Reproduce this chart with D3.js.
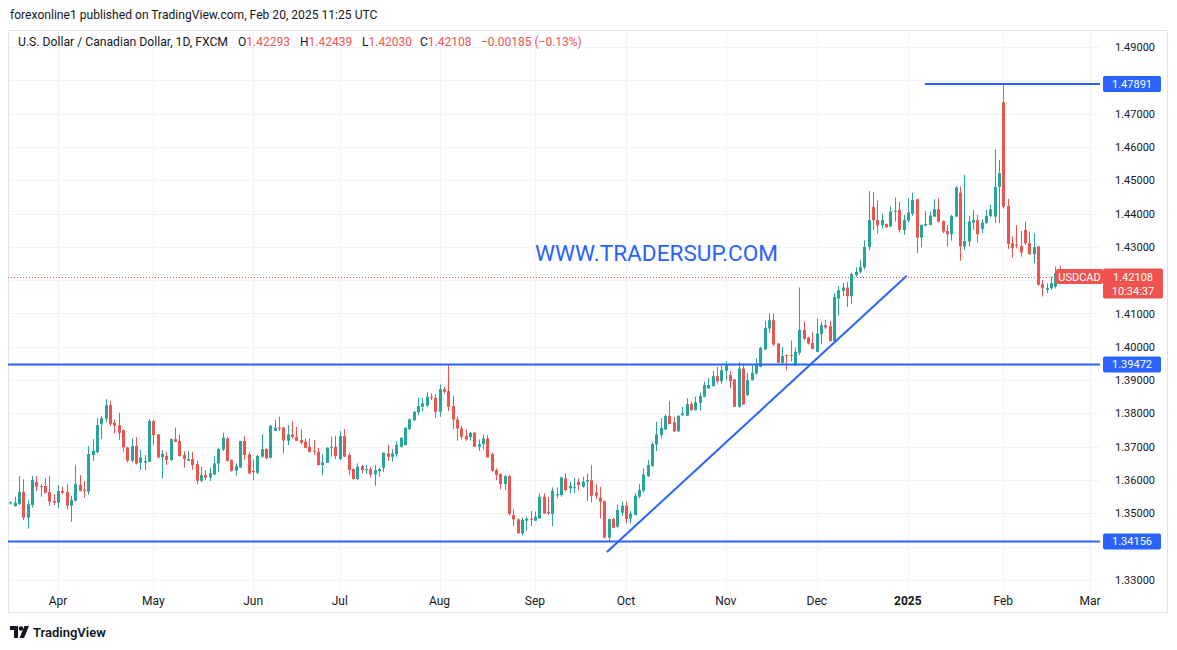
<!DOCTYPE html>
<html>
<head>
<meta charset="utf-8">
<script src="https://cdn.jsdelivr.net/npm/d3@7"></script>
<style>
  html, body { margin: 0; padding: 0; background: #fff; }
  svg { display: block; font-family: Roboto, "Noto Sans", sans-serif; }
</style>
</head>
<body>
<div id="chart"></div>
<script>
// daily bars, USDCAD FXCM, from Mar 15 2024 to Feb 20 2025
const opens = [
  1.3531,1.3522,1.3528,1.3564,1.3487,1.3525,1.3594,1.3582,1.3582,1.3564,1.3537,1.3532,1.3567,1.3564,1.3523,1.3538,1.3585,1.3571,1.3565,1.3675,
  1.3684,1.3768,1.3784,1.3825,1.3772,1.3765,1.3750,1.3698,1.3658,1.3702,1.3652,1.3652,1.3655,1.3777,1.3737,1.3669,1.3672,1.3660,1.3723,1.3717,
  1.3675,1.3658,1.3663,1.3648,1.3598,1.3615,1.3608,1.3617,1.3650,1.3692,1.3725,1.3660,1.3628,1.3638,1.3717,1.3677,1.3627,1.3622,1.3670,1.3693,
  1.3667,1.3748,1.3758,1.3758,1.3718,1.3737,1.3729,1.3720,1.3715,1.3700,1.3688,1.3685,1.3645,1.3652,1.3697,1.3700,1.3663,1.3732,1.3675,1.3633,
  1.3603,1.3642,1.3630,1.3633,1.3617,1.3627,1.3637,1.3680,1.3670,1.3678,1.3700,1.3705,1.3753,1.3780,1.3803,1.3820,1.3823,1.3850,1.3847,1.3805,
  1.3873,1.3867,1.3822,1.3782,1.3755,1.3732,1.3729,1.3742,1.3700,1.3708,1.3725,1.3678,1.3630,1.3618,1.3588,1.3612,1.3495,1.3482,1.3440,1.3478,
  1.3484,1.3478,1.3485,1.3550,1.3504,1.3498,1.3555,1.3555,1.3605,1.3575,1.3578,1.3595,1.3580,1.3595,1.3600,1.3563,1.3548,1.3537,1.3427,1.3483,
  1.3460,1.3502,1.3523,1.3485,1.3495,1.3550,1.3568,1.3612,1.3642,1.3707,1.3735,1.3752,1.3792,1.3773,1.3746,1.3795,1.3793,1.3828,1.3810,1.3832,
  1.3850,1.3875,1.3882,1.3912,1.3897,1.3928,1.3915,1.3902,1.3820,1.3935,1.3855,1.3900,1.3920,1.3940,1.3992,1.4055,1.4080,1.4010,1.3952,1.3975,
  1.3975,1.3945,1.3982,1.4051,1.4027,1.4012,1.3985,1.4038,1.4065,1.4062,1.4017,1.4145,1.4168,1.4178,1.4152,1.4215,1.4225,1.4238,1.4300,1.4420,
  1.4380,1.4365,1.4369,1.4361,1.4406,1.4411,1.4351,1.4379,1.4399,1.4443,1.4328,1.4364,1.4366,1.4391,1.4413,1.4378,1.4348,1.4338,1.4391,1.4463,
  1.4301,1.4316,1.4373,1.4381,1.4354,1.4371,1.4393,1.4391,1.4480,1.4734,1.4423,1.4311,1.4306,1.4303,1.4351,1.4311,1.4278,1.4301,1.4188,1.4171,
  1.4176,1.4181,1.42293
];
const highs = [
  1.3536,1.3550,1.3612,1.3602,1.3540,1.3612,1.3612,1.3588,1.3606,1.3612,1.3558,1.3585,1.3580,1.3588,1.3552,1.3645,1.3615,1.3597,1.3702,1.3723,
  1.3787,1.3792,1.3843,1.3837,1.3782,1.3802,1.3752,1.3700,1.3725,1.3729,1.3692,1.3675,1.3783,1.3781,1.3738,1.3690,1.3685,1.3725,1.3758,1.3737,
  1.3687,1.3687,1.3685,1.3659,1.3640,1.3630,1.3637,1.3672,1.3697,1.3742,1.3728,1.3662,1.3650,1.3718,1.3732,1.3685,1.3662,1.3675,1.3737,1.3695,
  1.3765,1.3780,1.3790,1.3759,1.3765,1.3777,1.3760,1.3753,1.3725,1.3725,1.3720,1.3697,1.3677,1.3698,1.3730,1.3733,1.3747,1.3753,1.3683,1.3635,
  1.3650,1.3645,1.3645,1.3640,1.3645,1.3637,1.3683,1.3705,1.3693,1.3717,1.3728,1.3758,1.3785,1.3807,1.3847,1.3847,1.3863,1.3860,1.3857,1.3887,
  1.3880,1.3946,1.3853,1.3790,1.3762,1.3752,1.3745,1.3745,1.3722,1.3737,1.3735,1.3682,1.3635,1.3620,1.3615,1.3615,1.3512,1.3485,1.3487,1.3490,
  1.3507,1.3505,1.3560,1.3560,1.3550,1.3578,1.3578,1.3610,1.3620,1.3595,1.3607,1.3605,1.3610,1.3620,1.3645,1.3587,1.3579,1.3538,1.3484,1.3487,
  1.3525,1.3535,1.3535,1.3507,1.3560,1.3588,1.3635,1.3660,1.3715,1.3775,1.3785,1.3797,1.3837,1.3790,1.3795,1.3820,1.3845,1.3835,1.3850,1.3862,
  1.3895,1.3905,1.3928,1.3940,1.3945,1.3957,1.3927,1.3903,1.3955,1.3945,1.3922,1.3945,1.3965,1.4000,1.4078,1.4102,1.4100,1.4012,1.4000,1.3977,
  1.4019,1.3998,1.4178,1.4076,1.4030,1.4045,1.4085,1.4075,1.4081,1.4078,1.4162,1.4182,1.4192,1.4195,1.4222,1.4238,1.4260,1.4320,1.4467,1.4465,
  1.4440,1.4400,1.4370,1.4421,1.4448,1.4436,1.4396,1.4446,1.4463,1.4444,1.4367,1.4408,1.4406,1.4443,1.4446,1.4379,1.4366,1.4396,1.4483,1.4481,
  1.4516,1.4393,1.4411,1.4396,1.4383,1.4411,1.4426,1.4593,1.4560,1.47891,1.4444,1.4331,1.4366,1.4348,1.4376,1.4346,1.4341,1.4303,1.4201,1.4191,
  1.4211,1.4241,1.42439
];
const lows = [
  1.3527,1.3520,1.3525,1.3480,1.3454,1.3517,1.3567,1.3550,1.3560,1.3522,1.3525,1.3515,1.3557,1.3512,1.3475,1.3535,1.3566,1.3547,1.3556,1.3658,
  1.3680,1.3724,1.3772,1.3762,1.3740,1.3720,1.3685,1.3653,1.3653,1.3647,1.3630,1.3630,1.3654,1.3705,1.3665,1.3605,1.3645,1.3657,1.3714,1.3671,
  1.3637,1.3657,1.3630,1.3587,1.3593,1.3600,1.3597,1.3615,1.3623,1.3687,1.3655,1.3625,1.3613,1.3636,1.3660,1.3617,1.3600,1.3618,1.3667,1.3663,
  1.3665,1.3747,1.3747,1.3680,1.3705,1.3725,1.3717,1.3707,1.3696,1.3682,1.3675,1.3644,1.3615,1.3651,1.3670,1.3663,1.3660,1.3669,1.3615,1.3602,
  1.3600,1.3620,1.3620,1.3607,1.3583,1.3610,1.3625,1.3657,1.3655,1.3670,1.3697,1.3704,1.3750,1.3777,1.3795,1.3807,1.3820,1.3840,1.3787,1.3790,
  1.3860,1.3807,1.3753,1.3718,1.3722,1.3718,1.3718,1.3700,1.3688,1.3692,1.3668,1.3625,1.3600,1.3572,1.3570,1.3495,1.3462,1.3440,1.3435,1.3448,
  1.3462,1.3477,1.3484,1.3498,1.3495,1.3462,1.3545,1.3550,1.3565,1.3560,1.3562,1.3570,1.3577,1.3537,1.3533,1.3543,1.3485,1.3425,1.3417,1.3455,
  1.3457,1.3492,1.3470,1.3470,1.3495,1.3545,1.3563,1.3609,1.3640,1.3687,1.3725,1.3750,1.3768,1.3745,1.3745,1.3792,1.3792,1.3809,1.3809,1.3808,
  1.3848,1.3874,1.3881,1.3890,1.3890,1.3900,1.3875,1.3820,1.3817,1.3825,1.3852,1.3899,1.3917,1.3938,1.3990,1.4042,1.4002,1.3952,1.3945,1.3930,
  1.3955,1.3942,1.3975,1.4021,1.4007,1.3993,1.3985,1.4008,1.4053,1.4017,1.4015,1.4095,1.4152,1.4120,1.4128,1.4210,1.4220,1.4232,1.4290,1.4350,
  1.4340,1.4355,1.4358,1.4360,1.4376,1.4343,1.4336,1.4373,1.4393,1.4281,1.4298,1.4361,1.4365,1.4390,1.4373,1.4341,1.4301,1.4319,1.4390,1.4258,
  1.4291,1.4301,1.4351,1.4313,1.4341,1.4370,1.4389,1.4372,1.4371,1.4415,1.4294,1.4268,1.4296,1.4271,1.4306,1.4276,1.4251,1.4184,1.4151,1.4161,
  1.4171,1.4175,1.42030
];
const closes = [
  1.3533,1.3532,1.3564,1.3487,1.3528,1.3600,1.3580,1.3579,1.3562,1.3535,1.3532,1.3567,1.3562,1.3523,1.3540,1.3588,1.3568,1.3569,1.3678,1.3688,
  1.3765,1.3786,1.3825,1.3768,1.3764,1.3742,1.3698,1.3658,1.3702,1.3650,1.3667,1.3657,1.3777,1.3735,1.3668,1.3679,1.3660,1.3723,1.3715,1.3672,
  1.3663,1.3663,1.3645,1.3598,1.3615,1.3607,1.3621,1.3650,1.3693,1.3727,1.3658,1.3628,1.3642,1.3717,1.3675,1.3620,1.3625,1.3672,1.3693,1.3665,
  1.3763,1.3757,1.3754,1.3719,1.3737,1.3729,1.3718,1.3712,1.3697,1.3685,1.3685,1.3645,1.3653,1.3697,1.3700,1.3672,1.3732,1.3670,1.3630,1.3603,
  1.3640,1.3630,1.3633,1.3617,1.3630,1.3633,1.3682,1.3670,1.3680,1.3705,1.3727,1.3757,1.3782,1.3805,1.3822,1.3830,1.3850,1.3847,1.3805,1.3873,
  1.3865,1.3820,1.3782,1.3755,1.3730,1.3722,1.3742,1.3700,1.3708,1.3725,1.3668,1.3628,1.3615,1.3588,1.3612,1.3498,1.3482,1.3440,1.3480,1.3484,
  1.3482,1.3490,1.3550,1.3500,1.3500,1.3568,1.3558,1.3608,1.3570,1.3583,1.3580,1.3585,1.3595,1.3600,1.3553,1.3553,1.3535,1.3427,1.3483,1.3457,
  1.3510,1.3523,1.3483,1.3499,1.3553,1.3570,1.3617,1.3645,1.3708,1.3737,1.3757,1.3792,1.3768,1.3746,1.3793,1.3800,1.3828,1.3810,1.3833,1.3852,
  1.3885,1.3885,1.3912,1.3897,1.3930,1.3945,1.3897,1.3820,1.3935,1.3827,1.3900,1.3922,1.3947,1.3997,1.4057,1.4080,1.4007,1.3952,1.3972,1.3972,
  1.3972,1.3985,1.4051,1.4024,1.4010,1.3993,1.4040,1.4065,1.4058,1.4017,1.4150,1.4170,1.4178,1.4152,1.4218,1.4225,1.4240,1.4300,1.4380,1.4380,
  1.4365,1.4380,1.4359,1.4406,1.4408,1.4351,1.4381,1.4403,1.4441,1.4328,1.4366,1.4369,1.4394,1.4413,1.4376,1.4346,1.4338,1.4393,1.4478,1.4301,
  1.4318,1.4376,1.4381,1.4338,1.4373,1.4393,1.4413,1.4480,1.4521,1.4421,1.4309,1.4297,1.4303,1.4283,1.4311,1.4278,1.4299,1.4186,1.4176,1.4176,
  1.4191,1.4221,1.42108
];

const priceTicks = d3.range(1.33, 1.4901, 0.01);
const monthNames = ["Jan","Feb","Mar","Apr","May","Jun","Jul","Aug","Sep","Oct","Nov","Dec"];
const holidays = ["2024-12-25", "2025-01-01"];
const levels = [1.47891, 1.39472, 1.34156];
const levelStart = [210.9, -5, -5];          // bar index where each horizontal ray starts
const trendLine = [[137.6, 1.3384], [206.75, 1.4213]];  // [bar index, price]
const lastPrice = 1.42108;
const changeText = "\u22120.00185 (\u22120.13%)";

const width = 1177, height = 650;
const paneLeft = 8, paneRight = 1100, paneTop = 30, paneBottom = 590, axisRight = 1168, frameBottom = 613;

// bar dates: weekdays from Mar 15 2024, skipping market holidays
var dates = [];
var d = new Date(Date.UTC(2024, 2, 15));
while (dates.length < 252) {
    var iso = d.toISOString().slice(0, 10);
    if (d.getUTCDay() != 0 && d.getUTCDay() != 6 && holidays.indexOf(iso) < 0) dates.push(new Date(d));
    d.setUTCDate(d.getUTCDate() + 1);
}

const x = d3.scaleLinear().domain([0, closes.length - 1]).range([10.3, 1059.6]);
const y = d3.scaleLinear().domain([1.33, 1.49]).range([580, 47]);

const svg = d3.select("#chart").append("svg")
    .attr("width", width)
    .attr("height", height);

svg.append("rect").attr("width", width).attr("height", height).attr("fill", "#fff");

// month ticks = first bar of every month
var monthTicks = [];
for (let i = 1; i < dates.length; i++) {
    if (dates[i].getUTCMonth() != dates[i - 1].getUTCMonth()) monthTicks.push(i);
}

const grid = svg.append("g");
grid.selectAll("line.h")
    .data(priceTicks)
    .enter().append("line")
    .attr("x1", paneLeft).attr("x2", paneRight)
    .attr("y1", p => Math.round(y(p)) + 0.5).attr("y2", p => Math.round(y(p)) + 0.5)
    .attr("stroke", "#f0f3fa");
grid.selectAll("line.v")
    .data(monthTicks)
    .enter().append("line")
    .attr("x1", i => Math.round(x(i)) + 0.5).attr("x2", i => Math.round(x(i)) + 0.5)
    .attr("y1", paneTop).attr("y2", paneBottom)
    .attr("stroke", "#f0f3fa");

// frame
svg.append("rect")
    .attr("x", paneLeft + 0.5).attr("y", paneTop + 0.5)
    .attr("width", axisRight - paneLeft - 1).attr("height", frameBottom - paneTop - 1)
    .attr("fill", "none").attr("stroke", "#e0e3eb");

// candles
const up = "#26a69a", down = "#ef5350";
const candles = svg.append("g");
candles.selectAll("line")
    .data(closes)
    .enter().append("line")
    .attr("x1", (c, i) => Math.round(x(i)) + 0.5)
    .attr("x2", (c, i) => Math.round(x(i)) + 0.5)
    .attr("y1", (c, i) => y(highs[i]))
    .attr("y2", (c, i) => y(lows[i]))
    .attr("stroke", (c, i) => c >= opens[i] ? up : down);
candles.selectAll("rect")
    .data(closes)
    .enter().append("rect")
    .attr("x", (c, i) => Math.round(x(i)) - 1)
    .attr("width", 3)
    .attr("y", (c, i) => y(Math.max(c, opens[i])))
    .attr("height", (c, i) => Math.max(1, Math.abs(y(c) - y(opens[i]))))
    .attr("fill", (c, i) => c >= opens[i] ? up : down);

// last price dotted line
svg.append("line")
    .attr("x1", paneLeft).attr("x2", paneRight)
    .attr("y1", Math.round(y(lastPrice)) + 0.5).attr("y2", Math.round(y(lastPrice)) + 0.5)
    .attr("stroke", down).attr("stroke-dasharray", "1,2");

// drawings
const blue = "#2962ff";
svg.selectAll("line.level")
    .data(levels)
    .enter().append("line")
    .attr("x1", (p, k) => Math.max(paneLeft, x(levelStart[k]))).attr("x2", paneRight)
    .attr("y1", p => y(p)).attr("y2", p => y(p))
    .attr("stroke", blue).attr("stroke-width", 2);
svg.append("line")
    .attr("x1", x(trendLine[0][0])).attr("y1", y(trendLine[0][1]))
    .attr("x2", x(trendLine[1][0])).attr("y2", y(trendLine[1][1]))
    .attr("stroke", blue).attr("stroke-width", 2);

svg.append("text")
    .attr("x", 535).attr("y", 261)
    .attr("font-size", 22).attr("fill", "#2962ff")
    .attr("textLength", 243).attr("lengthAdjust", "spacingAndGlyphs")
    .text("WWW.TRADERSUP.COM");

// price axis (labels covered by a price box are hidden, as TradingView does)
const boxed = levels.concat([lastPrice]);
svg.append("g").selectAll("text")
    .data(priceTicks.filter(p => boxed.every(b => Math.abs(y(b) - y(p)) > 12)))
    .enter().append("text")
    .attr("x", 1115).attr("y", p => y(p) + 4)
    .attr("font-size", 11).attr("fill", "#131722")
    .text(p => p.toFixed(5));

function priceBox(p, color) {
    svg.append("rect")
        .attr("x", 1103).attr("y", y(p) - 8).attr("width", 58).attr("height", 16)
        .attr("rx", 2).attr("fill", color);
    svg.append("text")
        .attr("x", 1132).attr("y", y(p) + 4).attr("text-anchor", "middle")
        .attr("font-size", 11).attr("fill", "#fff")
        .text(p.toFixed(5));
}
levels.forEach(p => priceBox(p, blue));

// current price box
svg.append("rect")
    .attr("x", 1103).attr("y", y(lastPrice) - 8).attr("width", 60).attr("height", 30)
    .attr("rx", 2).attr("fill", down);
svg.append("text")
    .attr("x", 1133).attr("y", y(lastPrice) + 4).attr("text-anchor", "middle")
    .attr("font-size", 11).attr("fill", "#fff").text(lastPrice.toFixed(5));
svg.append("text")
    .attr("x", 1133).attr("y", y(lastPrice) + 18).attr("text-anchor", "middle")
    .attr("font-size", 11).attr("fill", "#fff").text("10:34:37");
svg.append("rect")
    .attr("x", 1056).attr("y", y(lastPrice) - 7.5).attr("width", 47).attr("height", 15)
    .attr("rx", 2).attr("fill", down);
svg.append("text")
    .attr("x", 1079.5).attr("y", y(lastPrice) + 4).attr("text-anchor", "middle")
    .attr("font-size", 11).attr("fill", "#fff").text("USDCAD");

// time axis
svg.append("g").selectAll("text")
    .data(monthTicks.filter(i => x(i) < paneRight))
    .enter().append("text")
    .attr("x", i => x(i)).attr("y", 605)
    .attr("text-anchor", "middle")
    .attr("font-size", 12).attr("fill", "#131722")
    .attr("font-weight", i => dates[i].getUTCMonth() == 0 ? "bold" : "normal")
    .text(i => dates[i].getUTCMonth() == 0 ? String(dates[i].getUTCFullYear()) : monthNames[dates[i].getUTCMonth()]);

// header texts
svg.append("text")
    .attr("x", 10).attr("y", 19)
    .attr("font-size", 12.1).attr("fill", "#131722")
    .text("forexonline1 published on TradingView.com, Feb 20, 2025 11:25 UTC");

svg.append("text")
    .attr("x", 18).attr("y", 46)
    .attr("font-size", 12).attr("fill", "#131722")
    .attr("textLength", 210).attr("lengthAdjust", "spacingAndGlyphs")
    .text("U.S. Dollar / Canadian Dollar, 1D, FXCM");
const ohlc = [["O", opens], ["H", highs], ["L", lows], ["C", closes]];
const legendX = [238, 300, 362, 420];
const last = closes.length - 1;
ohlc.forEach(function (o, k) {
    const t = svg.append("text")
        .attr("x", legendX[k]).attr("y", 46)
        .attr("font-size", 12).attr("fill", "#131722");
    t.append("tspan").text(o[0]);
    t.append("tspan").attr("fill", down).text(o[1][last].toFixed(5));
});
svg.append("text")
    .attr("x", 481).attr("y", 46)
    .attr("font-size", 12).attr("fill", down)
    .text(changeText);

// TradingView logo
const logo = svg.append("g").attr("transform", "translate(10,626)");
logo.append("path").attr("d", "M0 0 H8 V12 H4 V4 H0 Z").attr("fill", "#131722");
logo.append("circle").attr("cx", 11).attr("cy", 2.5).attr("r", 2.3).attr("fill", "#131722");
logo.append("path").attr("d", "M14.5 0 H19 L14 12 H9.5 Z").attr("fill", "#131722");
svg.append("text")
    .attr("x", 33).attr("y", 637)
    .attr("font-size", 13).attr("font-weight", 600).attr("fill", "#131722")
    .text("TradingView");
</script>
</body>
</html>
